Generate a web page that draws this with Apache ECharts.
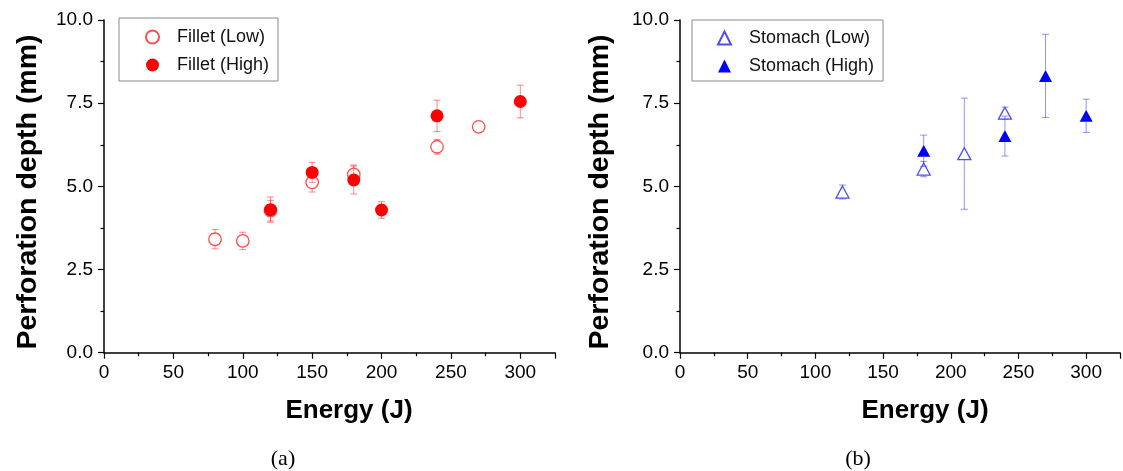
<!DOCTYPE html>
<html>
<head>
<meta charset="utf-8">
<script src="https://cdn.jsdelivr.net/npm/echarts@6/dist/echarts.min.js"></script>
<style>
  html, body { margin: 0; padding: 0; background: #fff; }
  #chart { width: 1123px; height: 471px; }
</style>
</head>
<body>
<div id="chart"></div>
<script>
// Energy (J), perforation depth (mm) and its error for each test group
const energyFilletLow = [80, 100, 120, 150, 180, 240, 270];
const depthFilletLow  = [3.41, 3.36, 4.27, 5.12, 5.36, 6.19, 6.79];
const errFilletLow    = [0.29, 0.26, 0.31, 0.29, 0.28, 0.22, 0.08];

const energyFilletHigh = [120, 150, 180, 200, 240, 300];
const depthFilletHigh  = [4.30, 5.42, 5.19, 4.29, 7.12, 7.55];
const errFilletHigh    = [0.38, 0.30, 0.42, 0.25, 0.47, 0.49];

const energyStomachLow = [120, 180, 210, 240];
const depthStomachLow  = [4.83, 5.52, 5.98, 7.20];
const errStomachLow    = [0.21, 0.23, 1.67, 0.18];

const energyStomachHigh = [180, 240, 270, 300];
const depthStomachHigh  = [6.07, 6.51, 8.32, 7.12];
const errStomachHigh    = [0.47, 0.60, 1.25, 0.50];

const xTickInterval = 50;
const yTickInterval = 2.5;

const FONT = '"Liberation Sans", Arial, sans-serif';
const RED = '#ff0000';
const RED_LIGHT = '#ff4d4d';
const RED_BAR = 'rgba(255,40,40,0.55)';
const BLUE = '#0000ff';
const BLUE_LIGHT = '#4d4dff';
const BLUE_BAR = 'rgba(40,40,255,0.5)';

function zip(xs, ys, es) {
  return xs.map((x, i) => es ? [x, ys[i], es[i]] : [x, ys[i]]);
}

// error bars that stop at the marker edge, with short caps;
// bars well inside the marker stay hidden behind it
function errorBarSeries(name, idx, xs, ys, es, color, markerRadius) {
  return {
    type: 'custom',
    name: name,
    xAxisIndex: idx,
    yAxisIndex: idx,
    z: 1,
    silent: true,
    data: zip(xs, ys, es),
    renderItem: function (params, api) {
      const x = api.value(0), y = api.value(1), e = api.value(2);
      const c = api.coord([x, y]);
      const top = api.coord([x, y + e]);
      const bot = api.coord([x, y - e]);
      const cap = 3.5;
      const style = { stroke: color, lineWidth: 1 };
      const children = [];
      if (c[1] - top[1] > markerRadius - 1) {
        children.push({ type: 'line', shape: { x1: c[0] - cap, y1: top[1], x2: c[0] + cap, y2: top[1] }, style: style });
        if (c[1] - markerRadius > top[1]) {
          children.push({ type: 'line', shape: { x1: c[0], y1: top[1], x2: c[0], y2: c[1] - markerRadius }, style: style });
        }
      }
      if (bot[1] - c[1] > markerRadius - 1) {
        children.push({ type: 'line', shape: { x1: c[0] - cap, y1: bot[1], x2: c[0] + cap, y2: bot[1] }, style: style });
        if (c[1] + markerRadius < bot[1]) {
          children.push({ type: 'line', shape: { x1: c[0], y1: c[1] + markerRadius, x2: c[0], y2: bot[1] }, style: style });
        }
      }
      return { type: 'group', children: children };
    }
  };
}

function xAxisFor(idx) {
  return {
    type: 'value', gridIndex: idx, min: 0, max: 325, interval: xTickInterval,
    axisLine: { show: true, lineStyle: { color: '#000', width: 1.5 } },
    axisTick: { show: true, inside: false, length: 6, lineStyle: { color: '#000', width: 1.2 } },
    minorTick: { show: true, splitNumber: 2, length: 3.5, lineStyle: { color: '#000', width: 1.2 } },
    axisLabel: {
      margin: 11, fontFamily: FONT, fontSize: 19, color: '#000',
      formatter: v => (v % xTickInterval === 0 ? String(v) : '')
    },
    splitLine: { show: false }
  };
}

function yAxisFor(idx) {
  return {
    type: 'value', gridIndex: idx, min: 0, max: 10, interval: yTickInterval,
    axisLine: { show: true, lineStyle: { color: '#000', width: 1.5 } },
    axisTick: { show: true, inside: false, length: 6, lineStyle: { color: '#000', width: 1.2 } },
    minorTick: { show: true, splitNumber: 2, length: 3.5, lineStyle: { color: '#000', width: 1.2 } },
    axisLabel: { margin: 11, fontFamily: FONT, fontSize: 19, color: '#000', formatter: v => v.toFixed(1) },
    splitLine: { show: false }
  };
}

function legendFor(left, top, names, padding) {
  return {
    left: left, top: top, orient: 'vertical',
    data: names,
    backgroundColor: '#fff',
    borderColor: '#8a8a8a', borderWidth: 1,
    padding: padding,
    itemGap: 10, itemWidth: 13, itemHeight: 13,
    selectedMode: false,
    textStyle: { fontFamily: FONT, fontSize: 18, color: '#111', padding: [0, 0, 0, 13] }
  };
}

const chart = echarts.init(document.getElementById('chart'), null, { renderer: 'canvas' });

chart.setOption({
  animation: false,
  backgroundColor: '#fff',
  grid: [
    { left: 104, top: 20, width: 451, height: 332.7 },
    { left: 680, top: 20, width: 450, height: 332.7 }
  ],
  xAxis: [xAxisFor(0), xAxisFor(1)],
  yAxis: [yAxisFor(0), yAxisFor(1)],
  legend: [
    legendFor(119, 18, ['Fillet (Low)', 'Fillet (High)'], [10, 9, 7, 26]),
    legendFor(692, 20, ['Stomach (Low)', 'Stomach (High)'], [9, 9, 6, 25])
  ],
  series: [
    errorBarSeries('barsFilletLow', 0, energyFilletLow, depthFilletLow, errFilletLow, RED_BAR, 6),
    errorBarSeries('barsFilletHigh', 0, energyFilletHigh, depthFilletHigh, errFilletHigh, RED_BAR, 6),
    errorBarSeries('barsStomachLow', 1, energyStomachLow, depthStomachLow, errStomachLow, BLUE_BAR, 6),
    errorBarSeries('barsStomachHigh', 1, energyStomachHigh, depthStomachHigh, errStomachHigh, BLUE_BAR, 6),
    {
      type: 'scatter', name: 'Fillet (Low)', xAxisIndex: 0, yAxisIndex: 0, z: 3,
      symbol: 'circle', symbolSize: 12.5,
      itemStyle: { color: 'rgba(255,255,255,0)', borderColor: RED_LIGHT, borderWidth: 1.3, opacity: 1 },
      data: zip(energyFilletLow, depthFilletLow)
    },
    {
      type: 'scatter', name: 'Fillet (High)', xAxisIndex: 0, yAxisIndex: 0, z: 4,
      symbol: 'circle', symbolSize: 13,
      itemStyle: { color: RED, opacity: 1 },
      data: zip(energyFilletHigh, depthFilletHigh)
    },
    {
      type: 'scatter', name: 'Stomach (Low)', xAxisIndex: 1, yAxisIndex: 1, z: 3,
      symbol: 'triangle', symbolSize: [13, 12],
      itemStyle: { color: 'rgba(255,255,255,0)', borderColor: BLUE_LIGHT, borderWidth: 1.3, opacity: 1 },
      data: zip(energyStomachLow, depthStomachLow)
    },
    {
      type: 'scatter', name: 'Stomach (High)', xAxisIndex: 1, yAxisIndex: 1, z: 4,
      symbol: 'triangle', symbolSize: [13, 12],
      itemStyle: { color: BLUE, opacity: 1 },
      data: zip(energyStomachHigh, depthStomachHigh)
    }
  ],
  graphic: [
    { type: 'text', x: 28, y: 192, rotation: Math.PI / 2,
      style: { text: 'Perforation depth (mm)', font: 'bold 28.5px ' + FONT, fill: '#000', align: 'center', verticalAlign: 'middle' } },
    { type: 'text', x: 600, y: 192, rotation: Math.PI / 2,
      style: { text: 'Perforation depth (mm)', font: 'bold 28.5px ' + FONT, fill: '#000', align: 'center', verticalAlign: 'middle' } },
    { type: 'text', x: 349, y: 411,
      style: { text: 'Energy (J)', font: 'bold 26px ' + FONT, fill: '#000', align: 'center', verticalAlign: 'middle' } },
    { type: 'text', x: 925, y: 411,
      style: { text: 'Energy (J)', font: 'bold 26px ' + FONT, fill: '#000', align: 'center', verticalAlign: 'middle' } },
    { type: 'text', x: 283, y: 459,
      style: { text: '(a)', font: '22px "Liberation Serif", "DejaVu Serif", serif', fill: '#000', align: 'center', verticalAlign: 'middle' } },
    { type: 'text', x: 858, y: 459,
      style: { text: '(b)', font: '22px "Liberation Serif", "DejaVu Serif", serif', fill: '#000', align: 'center', verticalAlign: 'middle' } }
  ]
});
</script>
</body>
</html>
